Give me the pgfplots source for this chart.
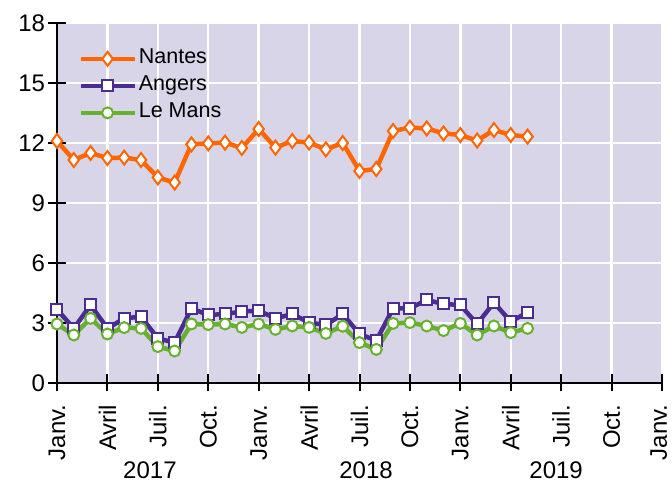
\documentclass[border=0pt]{standalone}
\usepackage{fontspec}
\setmainfont{Liberation Sans}
\usepackage{pgfplots}
\usepackage{pgfplotstable}
\pgfplotsset{compat=1.18}
\definecolor{bgLav}{HTML}{D9D5E9}
\definecolor{cNantes}{HTML}{FF6600}
\definecolor{cAngers}{HTML}{4B2C91}
\definecolor{cMans}{HTML}{66B22E}

% month index 0 = Janv. 2017
\pgfplotstableread{
m  nantes angers lemans
0  12.10  3.68  2.95
1  11.15  2.73  2.40
2  11.50  3.90  3.23
3  11.25  2.73  2.45
4  11.27  3.23  2.77
5  11.15  3.32  2.73
6  10.28  2.23  1.82
7  10.02  2.02  1.60
8  11.93  3.73  2.95
9  11.98  3.40  2.92
10 12.02  3.45  2.95
11 11.75  3.57  2.78
12 12.70  3.62  2.95
13 11.77  3.23  2.68
14 12.10  3.45  2.85
15 12.02  3.02  2.78
16 11.68  2.90  2.48
17 12.00  3.45  2.84
18 10.60  2.45  2.02
19 10.70  2.12  1.68
20 12.60  3.73  2.98
21 12.77  3.73  3.02
22 12.73  4.15  2.85
23 12.48  3.95  2.62
24 12.40  3.90  2.98
25 12.12  2.95  2.40
26 12.65  4.02  2.85
27 12.40  3.07  2.52
28 12.32  3.53  2.73
}\data

\begin{document}
\begin{tikzpicture}
\path[use as bounding box] (-57pt,-101pt) rectangle (615pt,383pt);
\begin{axis}[
    scale only axis,
    width=605pt, height=360pt,
    clip=false,
    xmin=0, xmax=36, ymin=0, ymax=18,
    ytick={0,3,...,18},
    xtick={0,3,...,36},
    xticklabels={Janv.,Avril,Juil.,Oct.,Janv.,Avril,Juil.,Oct.,Janv.,Avril,Juil.,Oct.,\raisebox{7pt}{Janv.}},
    x tick label style={rotate=90, anchor=east, inner xsep=2pt},
    xticklabel shift=11pt,
    /pgf/number format/assume math mode=true,
    tick label style={font=\fontsize{24}{28}\selectfont},
    axis background/.style={fill=bgLav},
    grid=major,
    major grid style={white, line width=2.5pt},
    axis x line=bottom, axis y line=left,
    axis line style={line width=2.5pt, -},
    tick style={black, line width=2pt},
    major tick length=17pt,
    tick align=center,
    legend style={at={(axis description cs:0.03,0.944)}, anchor=north west,
        draw=none, fill=none, font=\fontsize{21.5}{24}\selectfont,
        nodes={text height=15pt, text depth=5pt, inner ysep=3.5pt},
        row sep=0pt},
    legend cell align=left,
    legend image code/.code={
        \draw[mark repeat=2,mark phase=2,#1] plot coordinates {(0pt,0pt) (27pt,0pt) (54pt,0pt)};},
    every axis plot/.append style={line width=4.5pt},
]
\addplot[cNantes, mark=diamond*, mark size=7pt, mark options={fill=white, line width=2pt, solid}] table[x=m, y=nantes] {\data};
\addlegendentry{Nantes}
\addplot[cAngers, mark=square*, mark size=5.5pt, mark options={fill=white, line width=2pt, solid}] table[x=m, y=angers] {\data};
\addlegendentry{Angers}
\addplot[cMans, mark=*, mark size=5.5pt, mark options={fill=white, line width=2pt, solid}] table[x=m, y=lemans] {\data};
\addlegendentry{Le Mans}
\node[anchor=base, inner sep=0pt, font=\fontsize{24}{28}\selectfont] at (axis cs:5.53,0) [yshift=-95pt] {2017};
\node[anchor=base, inner sep=0pt, font=\fontsize{24}{28}\selectfont] at (axis cs:18.39,0) [yshift=-95pt] {2018};
\node[anchor=base, inner sep=0pt, font=\fontsize{24}{28}\selectfont] at (axis cs:29.7,0) [yshift=-95pt] {2019};
\end{axis}
\end{tikzpicture}
\end{document}
